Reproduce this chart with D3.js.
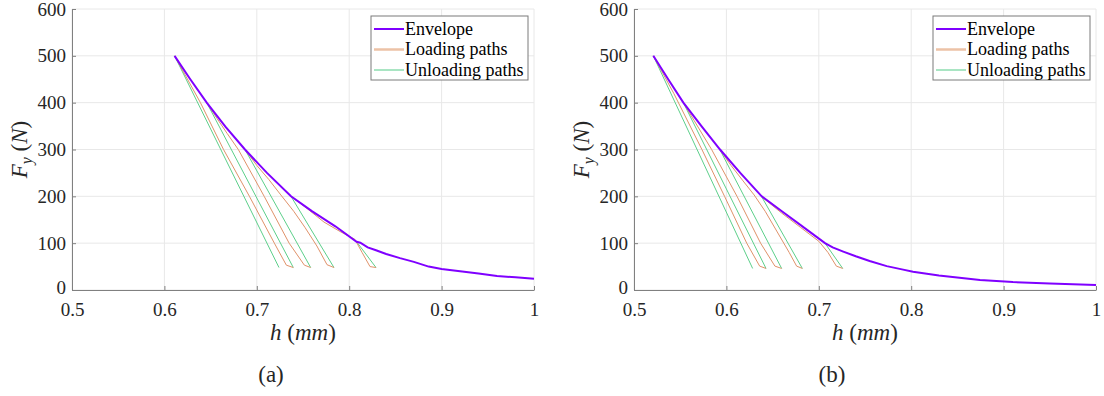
<!DOCTYPE html>
<html><head><meta charset="utf-8">
<script src="https://cdn.jsdelivr.net/npm/d3@7"></script>
<style>body{margin:0;background:#fff}svg{display:block}</style>
</head><body>
<svg id="c" width="1104" height="396"></svg>
<script>
// ---------- data ----------
const xTicks = [0.5, 0.6, 0.7, 0.8, 0.9, 1];
const yTicks = [0, 100, 200, 300, 400, 500, 600];
const legendLabels = ["Envelope", "Loading paths", "Unloading paths"];
const panelLabels = ["(a)", "(b)"];

// panel (a)
const envA_h = [0.611,0.628,0.6458,0.666,0.6872,0.711,0.737,0.76,0.785,0.808,0.812,0.820,0.829,0.84,0.855,0.87,0.886,0.9,0.92,0.94,0.96,0.98,1.0];
const envA_F = [500,450,400,349,300,250,200,168,136,103,101,91,85,77,68,60,50,45,40,35,30,27,24];
const unlA_h0 = [0.611,0.6458,0.6872,0.737,0.808];
const unlA_F0 = [500,400,300,200,103];
const unlA_h1 = [0.724,0.7395,0.7583,0.7835,0.829];
const unlA_F1 = [48,48,48,48,48];
const loadA_h = [
  [0.611,0.639,0.664,0.692,0.719,0.732,0.7395],
  [0.6458,0.657,0.668,0.68,0.708,0.735,0.7515,0.7583],
  [0.6872,0.70,0.713,0.726,0.74,0.752,0.765,0.776,0.7835],
  [0.737,0.755,0.7727,0.79,0.8062,0.814,0.8225,0.829]
];
const loadA_F = [
  [500,400,300,200,100,53,48],
  [400,366,334,300,200,100,53,48],
  [300,266,236,203,168,134,94,54,48],
  [200,173,145,125,108,80,50,48]
];

// panel (b)
const envB_h = [0.5209,0.537,0.5534,0.573,0.5931,0.615,0.6382,0.66,0.68,0.7067,0.715,0.7265,0.74,0.755,0.7735,0.79,0.802,0.83,0.8745,0.91,0.95,1.0];
const envB_F = [500,450,400,350,300,250,200,168,139,100,91,82,72,62,51,44,39,31,21.4,17,14,10.7];
const unlB_h0 = [0.5209,0.5534,0.5931,0.6382,0.7067];
const unlB_F0 = [500,400,299,199,100];
const unlB_h1 = [0.6284,0.6429,0.6598,0.6822,0.7259];
const unlB_F1 = [46,46,46,46,46];
const loadB_h = [
  [0.5209,0.543,0.5735,0.598,0.622,0.636,0.6429],
  [0.5534,0.565,0.584,0.6115,0.637,0.6525,0.6598],
  [0.5931,0.605,0.618,0.63,0.642,0.655,0.668,0.676,0.6822],
  [0.6382,0.66,0.68,0.70,0.71,0.719,0.7259]
];
const loadB_F = [
  [500,420,300,200,100,51,46],
  [400,362,300,200,100,51,46],
  [299,266,233,203,168,124,80,51,46],
  [199,164,134,104,80,51,46]
];

// ---------- drawing ----------
const svg = d3.select("#c");
const C_ENV = "#7f00ff", C_LOAD = "#e0926a", C_UNL = "#5ccf8a";
const AX = "#808080", GRID = "#e8e8e8", TXT = "#262626";
const FONT = '"Liberation Serif"';

const panels = [
  {x0:72, env:[envA_h,envA_F], unl:[unlA_h0,unlA_F0,unlA_h1,unlA_F1], load:[loadA_h,loadA_F], label:panelLabels[0], labelX:271},
  {x0:634, env:[envB_h,envB_F], unl:[unlB_h0,unlB_F0,unlB_h1,unlB_F1], load:[loadB_h,loadB_F], label:panelLabels[1], labelX:832}
];

function txt(sel, size) {
  return sel.style("font-family", FONT).style("font-size", size + "px");
}

panels.forEach(p => {
  const W = 462, top = 9, bottom = 290;
  const x = d3.scaleLinear().domain([0.5,1]).range([p.x0, p.x0+W]);
  const y = d3.scaleLinear().domain([0,600]).range([bottom, top]);
  const g = svg.append("g");

  // grid
  g.append("g").selectAll("line").data(xTicks).join("line")
    .attr("x1", d=>x(d)).attr("x2", d=>x(d)).attr("y1", top).attr("y2", bottom)
    .attr("stroke", GRID).attr("stroke-width", 1);
  g.append("g").selectAll("line").data(yTicks).join("line")
    .attr("y1", d=>y(d)).attr("y2", d=>y(d)).attr("x1", p.x0).attr("x2", p.x0+W)
    .attr("stroke", GRID).attr("stroke-width", 1);

  // axes
  const xa = g.append("g").attr("transform", `translate(0,${bottom})`)
    .call(d3.axisBottom(x).tickValues(xTicks).tickFormat(d3.format("")).tickSizeInner(-4).tickSizeOuter(0).tickPadding(13));
  const ya = g.append("g").attr("transform", `translate(${p.x0},0)`)
    .call(d3.axisLeft(y).tickValues(yTicks).tickSizeInner(-4).tickSizeOuter(0).tickPadding(6));
  [xa, ya].forEach(a => {
    a.attr("font-family", null).attr("font-size", null);
    a.select(".domain").attr("stroke", AX);
    a.selectAll(".tick line").attr("stroke", AX);
    txt(a.selectAll("text"), 19).attr("fill", TXT);
  });
  xa.selectAll("text").attr("dy", "0.71em");
  ya.selectAll(".tick").filter(d => d === 0).select("text").attr("dy", "0.2em");

  const line = d3.line().x(d=>x(d[0])).y(d=>y(d[1]));

  // unloading paths
  p.unl[0].forEach((h0,i) => {
    g.append("path").attr("d", line([[h0,p.unl[1][i]],[p.unl[2][i],p.unl[3][i]]]))
      .attr("fill","none").attr("stroke",C_UNL).attr("stroke-width",1);
  });
  // loading paths
  p.load[0].forEach((hs,i) => {
    const pts = hs.map((h,j)=>[h,p.load[1][i][j]]);
    g.append("path").attr("d", line(pts)).attr("fill","none")
      .attr("stroke",C_LOAD).attr("stroke-width",1);
  });
  // envelope
  const envPts = p.env[0].map((h,j)=>[h,p.env[1][j]]);
  g.append("path").attr("d", line(envPts)).attr("fill","none")
    .attr("stroke",C_ENV).attr("stroke-width",2);

  // axis labels
  const xl = txt(g.append("text"), 23).attr("x", p.x0+W/2).attr("y", 340).attr("text-anchor","middle").attr("fill",TXT);
  xl.append("tspan").style("font-style","italic").text("h");
  xl.append("tspan").text(" (");
  xl.append("tspan").style("font-style","italic").text("mm");
  xl.append("tspan").text(")");

  const yl = txt(g.append("text"), 23).attr("transform", `translate(${p.x0-45},${(top+bottom)/2}) rotate(-90)`)
    .attr("text-anchor","middle").attr("fill",TXT);
  yl.append("tspan").style("font-style","italic").text("F");
  yl.append("tspan").style("font-style","italic").style("font-size","16px").attr("dy",5).text("y");
  yl.append("tspan").attr("dy",-5).text(" (");
  yl.append("tspan").style("font-style","italic").text("N");
  yl.append("tspan").text(")");

  txt(g.append("text"), 23).attr("x", p.labelX).attr("y", 382).attr("text-anchor","middle")
    .attr("fill",TXT).text(p.label);

  // legend
  const lx = p.x0 + 299, ly = 16, lw = 157, lh = 64;
  const lg = g.append("g");
  lg.append("rect").attr("x",lx).attr("y",ly).attr("width",lw).attr("height",lh)
    .attr("fill","#fff").attr("stroke","#7a7a7a").attr("stroke-width",1);
  const lcols = [C_ENV, "#ecc2a6", "#6fd39a"], lws = [2, 2.5, 1.2];
  legendLabels.forEach((t,i) => {
    const yy = ly + 13 + i*20.5;
    lg.append("line").attr("x1",lx+3).attr("x2",lx+33).attr("y1",yy).attr("y2",yy)
      .attr("stroke",lcols[i]).attr("stroke-width",lws[i]);
    txt(lg.append("text"), 18).attr("x",lx+34).attr("y",yy).attr("dy","0.33em")
      .attr("fill","#000").text(t);
  });
});
</script>
</body></html>
